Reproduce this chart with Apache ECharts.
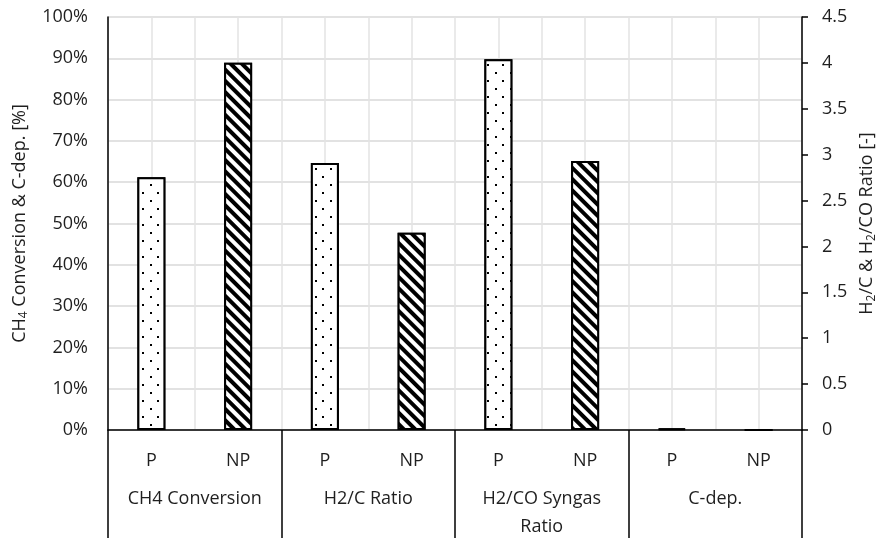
<!DOCTYPE html>
<html><head><meta charset="utf-8">
<script src="https://cdn.jsdelivr.net/npm/echarts@6/dist/echarts.min.js"></script>
<style>html,body{margin:0;padding:0;background:#fff}#c{width:881px;height:538px}</style>
</head><body><div id="c"></div>
<script>
var subCategories = ['P','NP','P','NP','P','NP','P','NP'];
var groups = ['CH4 Conversion','H2/C Ratio','H2/CO Syngas\nRatio','C-dep.'];
var leftTicks = [0,10,20,30,40,50,60,70,80,90,100];
var rightTicks = [0,0.5,1,1.5,2,2.5,3,3.5,4,4.5];
// percent values (left axis): CH4 Conversion and C-dep.
var ch4ConversionP = 61.2, ch4ConversionNP = 88.9;
var cDepP = 0.35, cDepNP = 0.05;
// ratio values (right axis)
var h2cRatioP = 2.91, h2cRatioNP = 2.15;
var h2coRatioP = 4.04, h2coRatioNP = 2.93;

var pctP  = [ch4ConversionP, null, null, null, null, null, cDepP, null];
var pctNP = [null, ch4ConversionNP, null, null, null, null, null, cDepNP];
var ratP  = [null, null, h2cRatioP, null, h2coRatioP, null, null, null];
var ratNP = [null, null, null, h2cRatioNP, null, h2coRatioNP, null, null];

var FONT = 'Open Sans';
var FS = 18;
var TXT = '#1f1f1f';
var dotDecal = {symbol:'rect', symbolSize:1, color:'#000', backgroundColor:'#fff',
  dashArrayX:[[1.5,12.5],[0,7,1.5,5.5]], dashArrayY:[1.5,5.5], rotation:0};
var hatchDecal = {symbol:'rect', symbolSize:1, color:'#000', backgroundColor:'#fff',
  dashArrayX:[1,0], dashArrayY:[3.6,3.6], rotation:Math.PI/4};
function mk(data, yi, decal){
  return {type:'bar', data:data, yAxisIndex:yi, xAxisIndex:0, barWidth:28, barGap:'-100%',
    itemStyle:{color:'#fff', borderColor:'#000', borderWidth:2, decal:decal}, silent:true};
}
var half = []; for (var i=0;i<16;i++) half.push(''+i);
var chart = echarts.init(document.getElementById('c'));
chart.setOption({
  animation:false,
  textStyle:{fontFamily:FONT},
  grid:{left:108, right:79, top:17, bottom:108, containLabel:false, outerBoundsMode:'none'},
  xAxis:[
    {type:'category', data:subCategories, position:'bottom',
     axisLine:{show:true, lineStyle:{color:'#000', width:1.5}}, axisTick:{show:false},
     axisLabel:{interval:0, margin:22, fontSize:FS, color:TXT, fontFamily:FONT}, splitLine:{show:false}},
    {type:'category', data:groups, position:'bottom',
     axisLine:{show:false}, axisTick:{show:true, interval:0, length:108, lineStyle:{color:'#000', width:1.5}},
     axisLabel:{interval:0, margin:55, fontSize:FS, color:TXT, fontFamily:FONT, lineHeight:28, verticalAlign:'top'}, splitLine:{show:false}},
    {type:'category', data:half, position:'top', show:true,
     axisLine:{show:false}, axisTick:{show:false}, axisLabel:{show:false},
     splitLine:{show:true, interval:0, lineStyle:{color:'#e3e3e3', width:1.5}}}
  ],
  yAxis:[
    {type:'value', min:0, max:100, interval:10, position:'left',
     axisLine:{show:true, lineStyle:{color:'#000', width:1.5}}, axisTick:{show:false},
     axisLabel:{formatter:'{value}%', fontSize:FS, color:TXT, margin:20, fontFamily:FONT},
     splitLine:{show:true, lineStyle:{color:'#d9d9d9', width:1.5}},
     name:'{a|CH}{s|4}{a| Conversion & C-dep. [%]}', nameLocation:'middle', nameGap:78,
     nameTextStyle:{rich:{a:{fontSize:FS, color:TXT, fontFamily:FONT}, s:{fontSize:12, color:TXT, fontFamily:FONT, padding:[9,0,0,0]}}}},
    {type:'value', min:0, max:4.5, interval:0.5, position:'right',
     axisLine:{show:true, lineStyle:{color:'#000', width:1.5}},
     axisTick:{show:true, length:6, lineStyle:{color:'#000', width:1.5}},
     axisLabel:{fontSize:FS, color:TXT, margin:20, fontFamily:FONT},
     splitLine:{show:false},
     name:'{a|H}{s|2}{a|/C & H}{s|2}{a|/CO Ratio [-]}', nameLocation:'middle', nameGap:51, nameRotate:90,
     nameTextStyle:{rich:{a:{fontSize:FS, color:TXT, fontFamily:FONT}, s:{fontSize:12, color:TXT, fontFamily:FONT, padding:[9,0,0,0]}}}}
  ],
  series:[mk(pctP,0,dotDecal), mk(pctNP,0,hatchDecal), mk(ratP,1,dotDecal), mk(ratNP,1,hatchDecal)]
});
</script></body></html>
